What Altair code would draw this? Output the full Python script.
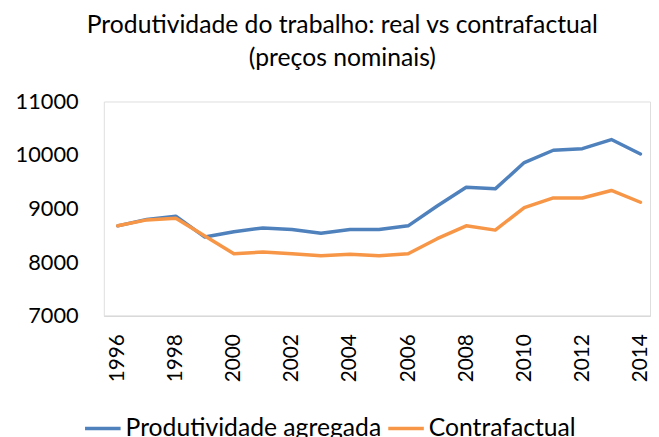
import altair as alt
import pandas as pd

years = list(range(1996, 2015))
produtividade = [8680, 8800, 8860, 8470, 8570, 8640, 8610, 8540, 8610, 8610,
                 8680, 9050, 9400, 9370, 9860, 10090, 10120, 10290, 10020]
contrafactual = [8680, 8790, 8820, 8490, 8160, 8190, 8160, 8120, 8150, 8120,
                 8160, 8440, 8680, 8600, 9020, 9200, 9200, 9340, 9120]
series_names = ["Produtividade agregada", "Contrafactual"]
colors = ["#4F81BD", "#F79646"]
x_ticks = list(range(1996, 2015, 2))
y_ticks = [7000, 8000, 9000, 10000, 11000]

rows = []
for name, vals in zip(series_names, [produtividade, contrafactual]):
    for y, v in zip(years, vals):
        rows.append({"ano": y, "valor": v, "serie": name})
df = pd.DataFrame(rows)

FONT = "Lato"

chart = alt.Chart(df).mark_line(strokeWidth=3.5, strokeCap="round", strokeJoin="round").encode(
    x=alt.X("ano:Q",
            scale=alt.Scale(domain=[1995.52, 2014.33], nice=False, zero=False),
            axis=alt.Axis(values=x_ticks, format="d", labelAngle=270, title=None,
                          grid=False, ticks=False, domain=True, domainColor="#D9D9D9",
                          domainWidth=1.5, labelFontSize=21, labelFont=FONT,
                          labelColor="#000000", labelPadding=18, labelFlush=False,
                          labelOverlap=False)),
    y=alt.Y("valor:Q",
            scale=alt.Scale(domain=[7000, 11000], nice=False, zero=False),
            axis=alt.Axis(values=y_ticks, format="d", title=None, grid=False,
                          ticks=False, domain=False, labelFontSize=22, labelFont=FONT,
                          labelColor="#000000", labelPadding=26)),
    color=alt.Color("serie:N",
                    scale=alt.Scale(domain=series_names, range=colors),
                    legend=alt.Legend(title=None, orient="none", direction="horizontal",
                                      legendX=-21, legendY=311, symbolType="stroke",
                                      symbolSize=1296, symbolStrokeWidth=3.5,
                                      labelFontSize=25, labelFont=FONT, labelColor="#000000",
                                      labelOffset=3, columnPadding=0, padding=0,
                                      labelLimit=400)),
    order=alt.Order("ano:Q"),
).properties(
    width=553,
    height=217,
    title=alt.TitleParams(
        text=["Produtividade do trabalho: real vs contrafactual", "(preços nominais)"],
        fontSize=25, font=FONT, fontWeight="normal", color="#000000",
        anchor="middle", dx=-35, frame="group", offset=20, lineHeight=33),
    autosize=alt.AutoSizeParams(type="none"),
    padding={"left": 97, "top": 92, "right": 1, "bottom": 120},
).configure_view(stroke=None).configure(background="white")

chart.save("out.html", embed_options={"renderer": "svg", "actions": False})
